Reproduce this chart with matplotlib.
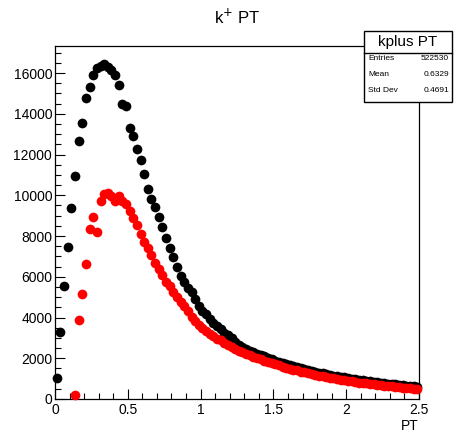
import numpy as np
import matplotlib
matplotlib.use("Agg")
import matplotlib.pyplot as plt
from matplotlib.ticker import MultipleLocator

plt.rcParams['font.family'] = ['Liberation Sans', 'DejaVu Sans']

# 100 bins from 0 to 2.5
bin_edges_lo = 0.0
bin_edges_hi = 2.5
n_bins = 100

black_counts = [
    1050, 3300, 5530, 7450, 9390, 10940, 12670, 13570, 14800, 15300,
    15900, 16230, 16360, 16440, 16280, 16150, 15900, 15400, 14500, 14400,
    13300, 12900, 12250, 11750, 11030, 10300, 9830, 9450, 8950, 8450,
    7900, 7400, 6950, 6500, 6050, 5750, 5450, 5250, 4900, 4550,
    4300, 4150, 3950, 3750, 3600, 3420, 3250, 3150, 3000, 2800,
    2650, 2540, 2450, 2380, 2300, 2230, 2150, 2090, 2010, 1960,
    1890, 1830, 1780, 1720, 1670, 1610, 1570, 1510, 1470, 1420,
    1380, 1330, 1300, 1260, 1220, 1190, 1150, 1120, 1090, 1060,
    1030, 1000, 970, 945, 915, 890, 870, 840, 820, 800,
    780, 760, 740, 720, 700, 680, 660, 640, 620, 590,
]

red_counts = [
    np.nan, np.nan, np.nan, np.nan, np.nan, 200, 3890, 5160, 6640, 8350,
    8950, 8200, 9710, 10040, 10090, 9960, 9710, 9960, 9710, 9550,
    9250, 8900, 8550, 8100, 7700, 7400, 7050, 6700, 6400, 6100,
    5750, 5550, 5250, 5030, 4750, 4550, 4300, 4050, 3850, 3650,
    3500, 3330, 3200, 3080, 2950, 2880, 2760, 2650, 2550, 2450,
    2380, 2300, 2230, 2150, 2080, 2010, 1950, 1880, 1820, 1760,
    1700, 1650, 1590, 1540, 1490, 1440, 1400, 1350, 1310, 1260,
    1220, 1180, 1150, 1110, 1080, 1040, 1010, 980, 950, 920,
    890, 860, 840, 810, 790, 770, 745, 720, 700, 680,
    660, 640, 620, 600, 580, 560, 540, 520, 500, 470,
]

title_text = "k$^{+}$ PT"
xlabel_text = "PT"
stats_title = "kplus PT"
stats_rows = [("Entries", "522530"), ("Mean", "0.6329"), ("Std Dev", "0.4691")]

W, H = 457, 433
fig = plt.figure(figsize=(W / 100, H / 100), dpi=100)
ax = fig.add_axes([55 / W, 1 - 399 / H, (419 - 55) / W, (399 - 46) / H])

edges = np.linspace(bin_edges_lo, bin_edges_hi, n_bins + 1)
centers = 0.5 * (edges[:-1] + edges[1:])

ax.plot(centers, black_counts, 'o', color='black', markersize=7, markeredgewidth=0, zorder=3, clip_on=False)
ax.plot(centers, red_counts, 'o', color='#ff0000', markersize=7, markeredgewidth=0, zorder=4, clip_on=False)

ax.set_xlim(0, 2.5)
ax.set_ylim(0, 17330)

ax.xaxis.set_major_locator(MultipleLocator(0.5))
ax.xaxis.set_minor_locator(MultipleLocator(0.1))
ax.yaxis.set_major_locator(MultipleLocator(2000))
ax.yaxis.set_minor_locator(MultipleLocator(500))
ax.xaxis.set_major_formatter(matplotlib.ticker.FuncFormatter(lambda v, p: f"{v:g}"))

ax.tick_params(which='major', direction='in', length=7, width=0.8, labelsize=10, top=False, right=False)
ax.tick_params(which='minor', direction='in', length=4, width=0.8, top=False, right=False)
ax.tick_params(axis='x', pad=3)
ax.tick_params(axis='y', pad=2)
for s in ax.spines.values():
    s.set_linewidth(0.9)

ax.set_xlabel(xlabel_text, fontsize=10, loc='right', labelpad=1)
fig.text(237 / W, 1 - 17 / H, title_text, fontsize=12, ha='center', va='center')

# stats box
bx0, bx1 = 364 / W, 452 / W
by_top, by_mid, by_bot = 1 - 31 / H, 1 - 53 / H, 1 - 102 / H
box = plt.Rectangle((bx0, by_bot), bx1 - bx0, by_top - by_bot, transform=fig.transFigure,
                    facecolor='white', edgecolor='black', linewidth=1.0, zorder=10)
fig.add_artist(box)
fig.add_artist(plt.Line2D([bx0, bx1], [by_mid, by_mid], transform=fig.transFigure,
                          color='black', linewidth=1.0, zorder=11))
fig.text((bx0 + bx1) / 2, 1 - 42 / H, stats_title, fontsize=11, ha='center', va='center', zorder=12)
row_y = [59, 74, 90]
for (lab, val), yy in zip(stats_rows, row_y):
    fig.text(bx0 + 4 / W, 1 - yy / H, lab, fontsize=6, ha='left', va='center', zorder=12)
    fig.text(bx1 - 3 / W, 1 - yy / H, val, fontsize=6, ha='right', va='center', zorder=12)

fig.savefig("out.png", dpi=100)
